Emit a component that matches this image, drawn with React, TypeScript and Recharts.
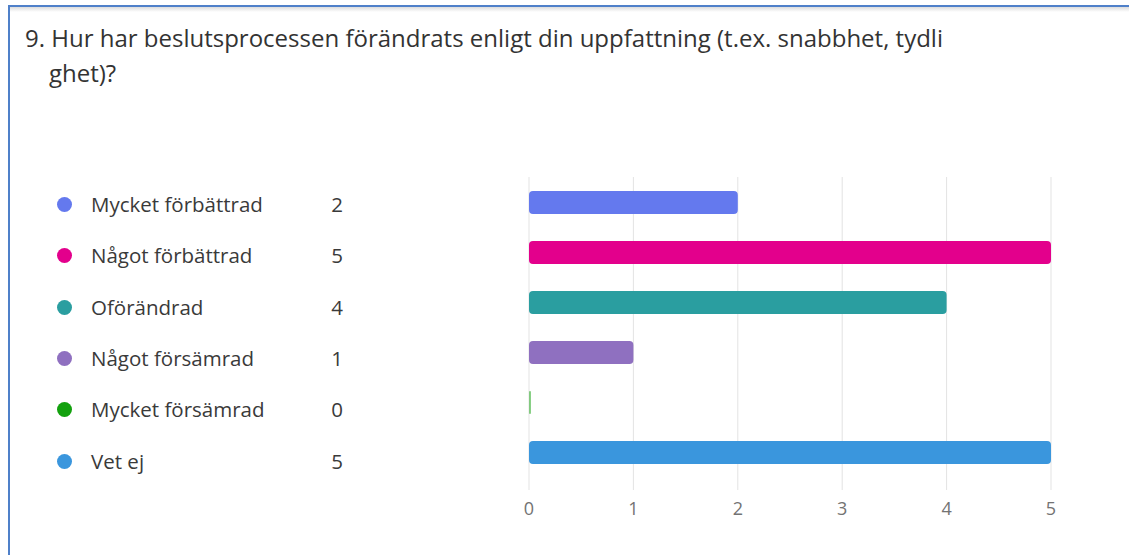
import React from 'react';
import { BarChart, Bar, XAxis, YAxis, CartesianGrid, Cell } from 'recharts';

const titleLine1 = '9. Hur har beslutsprocessen förändrats enligt din uppfattning (t.ex. snabbhet, tydli';
const titleLine2 = 'ghet)?';
const categories = ['Mycket förbättrad', 'Något förbättrad', 'Oförändrad', 'Något försämrad', 'Mycket försämrad', 'Vet ej'];
const counts = [2, 5, 4, 1, 0, 5];
const colors = ['#6479EE', '#E3008C', '#2A9EA0', '#8F70C0', '#13A10E', '#3A96DD'];
const xTicks = [0, 1, 2, 3, 4, 5];

const data = categories.map((name, i) => ({ name, value: counts[i] }));

const FONT = '"Segoe UI", "Open Sans", "Noto Sans", sans-serif';

export default function App() {
  return (
    <div
      style={{
        position: 'absolute',
        left: 0,
        top: 0,
        width: 1129,
        height: 555,
        background: '#ffffff',
        overflow: 'hidden',
        fontFamily: FONT,
      }}
    >
      <div
        style={{
          position: 'absolute',
          left: 8,
          top: 5,
          right: -10,
          bottom: -10,
          borderTop: '2px solid #4F80C9',
          borderLeft: '2px solid #4F80C9',
        }}
      />
      <div
        style={{
          position: 'absolute',
          left: 10,
          top: 7,
          right: 0,
          height: 5,
          background: 'linear-gradient(#dcdcdc, #ffffff)',
        }}
      />
      <div
        style={{
          position: 'absolute',
          left: 25,
          top: 20,
          fontSize: 24,
          lineHeight: '35px',
          color: '#333333',
          whiteSpace: 'nowrap',
        }}
      >
        <div>{titleLine1}</div>
        <div style={{ paddingLeft: 24 }}>{titleLine2}</div>
      </div>
      <div style={{ position: 'absolute', left: 0, top: 0 }}>
        <BarChart
          width={1129}
          height={555}
          data={data}
          layout="vertical"
          margin={{ top: 177, right: 78, bottom: 35, left: 529 }}
        >
          <CartesianGrid horizontal={false} vertical={true} stroke="#e3e3e3" />
          <XAxis
            type="number"
            domain={[0, 5]}
            ticks={xTicks}
            axisLine={false}
            tickLine={false}
            tickMargin={6}
            tick={{ fill: '#737373', fontSize: 18, fontFamily: FONT }}
          />
          <YAxis type="category" dataKey="name" hide padding={{ top: 0, bottom: 13 }} />
          <Bar dataKey="value" barSize={23} radius={4} minPointSize={2} isAnimationActive={false}>
            {data.map((d, i) => (
              <Cell key={d.name} fill={colors[i]} fillOpacity={d.value === 0 ? 0.5 : 1} />
            ))}
          </Bar>
        </BarChart>
      </div>
      <div style={{ position: 'absolute', left: 0, top: 0 }}>
        {categories.map((name, i) => (
          <div
            key={name}
            style={{
              position: 'absolute',
              left: 0,
              top: 205 + i * 51.3 - 15,
              height: 30,
              width: 360,
              fontSize: 20.5,
              color: '#3a3a3a',
              whiteSpace: 'nowrap',
            }}
          >
            <span
              style={{
                position: 'absolute',
                left: 57,
                top: 7,
                width: 15,
                height: 15,
                borderRadius: '50%',
                background: colors[i],
              }}
            />
            <span style={{ position: 'absolute', left: 91, top: 0, lineHeight: '28px' }}>{name}</span>
            <span
              style={{
                position: 'absolute',
                left: 322,
                width: 30,
                top: 0,
                lineHeight: '28px',
                textAlign: 'center',
              }}
            >
              {counts[i]}
            </span>
          </div>
        ))}
      </div>
    </div>
  );
}
